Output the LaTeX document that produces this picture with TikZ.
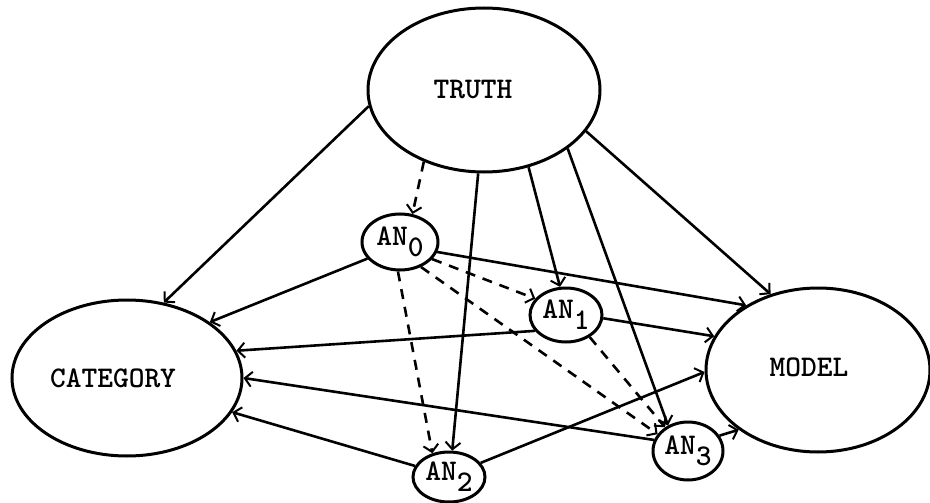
\documentclass[tikz,border=0pt]{standalone}
\usetikzlibrary{shapes.geometric,arrows.meta}
\newcommand\ansub[1]{\raisebox{-0.36em}{#1}}
\begin{document}
\begin{tikzpicture}[x=1pt,y=-1pt,
  txt/.style={font=\fontsize{30}{32}\selectfont\ttfamily\bfseries},
  ell/.style={ellipse,draw,line width=3pt,inner sep=0pt,txt},
  conn/.style={line width=2.6pt,-{Straight Barb[length=7pt,width=15pt,line width=2pt]}},
  dashconn/.style={conn,dash pattern=on 10pt off 8pt}]
\useasboundingbox (0,0) rectangle (930,503);
% main ellipses
\node[ell,minimum width=232pt,minimum height=164pt,label={[txt,xshift=-11pt]center:TRUTH}] (truth) at (484,90) {};
\node[ell,minimum width=230pt,minimum height=156pt,label={[txt,xshift=-14pt]center:CATEGORY}] (cat) at (127,378) {};
\node[ell,minimum width=224pt,minimum height=164pt,label={[txt,xshift=-9pt,yshift=3pt]center:MODEL}] (model) at (818,370) {};
% AN nodes
\node[ell,minimum width=76pt,minimum height=56pt] (an0) at (400,242) {AN\ansub{0}};
\node[ell,minimum width=72pt,minimum height=54pt] (an1) at (566,315) {AN\ansub{1}};
\node[ell,minimum width=72pt,minimum height=50pt] (an2) at (449,477) {AN\ansub{2}};
\node[ell,minimum width=70pt,minimum height=58pt] (an3) at (688,451) {AN\ansub{3}};
% from TRUTH
\draw[conn] (truth.188.8) -- (cat.64);
\draw[dashconn] (truth.230) -- (an0.66);
\draw[conn] (truth.266) -- (an2.83);
\draw[conn] (truth.300) -- (an1.102);
\draw[conn] (truth.325) -- (an3.128);
\draw[conn] (truth.338) -- (model.122);
% from AN0
\draw[conn] (an0.207) -- (cat.34);
\draw[conn] (an0.345) -- (model.138);
\draw[dashconn] (an0.332) -- (an1.152);
\draw[dashconn] (an0.266) -- (an2.125);
\draw[dashconn] (an0.310) -- (an3.151);
% from AN1
\draw[conn] (an1.207) -- (cat.14);
\draw[conn] (an1.355) -- (model.162);
\draw[dashconn] (an1.317) -- (an3.134);
% from AN2
\draw[conn] (an2.162) -- (cat.342);
\draw[conn] (an2.24) -- (model.181);
% from AN3
\draw[conn] (an3.162) -- (cat.0);
\draw[conn] (an3.26) -- (model.217);
\end{tikzpicture}
\end{document}
